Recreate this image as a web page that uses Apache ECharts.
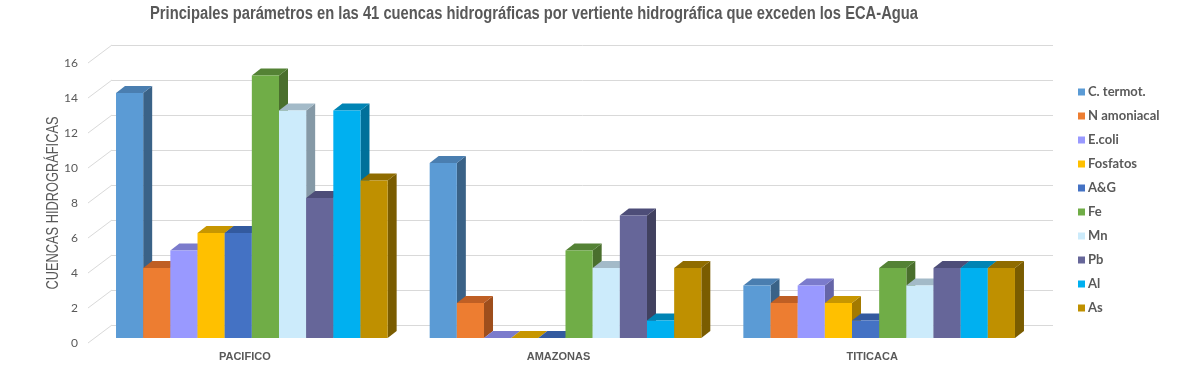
<!DOCTYPE html>
<html>
<head>
<meta charset="utf-8">
<script src="https://cdn.jsdelivr.net/npm/echarts@6.0.0/dist/echarts.min.js"></script>
<style>
html,body{margin:0;padding:0;background:#fff;}
#main{width:1200px;height:381px;}
</style>
</head>
<body>
<div id="main"></div>
<script>
// ---------- data ----------
const categories = ['PACIFICO', 'AMAZONAS', 'TITICACA'];
const seriesNames = ['C. termot.', 'N amoniacal', 'E.coli', 'Fosfatos', 'A&G', 'Fe', 'Mn', 'Pb', 'Al', 'As'];
const cTermot    = [14, 10, 3];
const nAmoniacal = [4, 2, 2];
const eColi      = [5, 0, 3];
const fosfatos   = [6, 0, 2];
const aYG        = [6, 0, 1];
const fe         = [15, 5, 4];
const mn         = [13, 4, 3];
const pb         = [8, 7, 4];
const al         = [13, 1, 4];
const arsenico   = [9, 4, 4];
const yTicks = [0, 2, 4, 6, 8, 10, 12, 14, 16];
const titleText = 'Principales parámetros en las 41 cuencas hidrográficas por vertiente hidrográfica que exceden los ECA-Agua';
const yAxisName = 'CUENCAS HIDROGRÁFICAS';

const seriesValues = [cTermot, nAmoniacal, eColi, fosfatos, aYG, fe, mn, pb, al, arsenico];

// ---------- styles ----------
const frontColors = ['#5B9BD5', '#ED7D31', '#9999FF', '#FFC000', '#4472C4', '#70AD47', '#CCEBFB', '#666699', '#00B0F0', '#BF9000'];
const topColors   = ['#4A7EB0', '#BF5F24', '#7B7BCC', '#C79600', '#335A9F', '#548235', '#A3BAC8', '#4D4D78', '#0084B4', '#8F6C00'];
const sideColors  = ['#3A6287', '#9E4E1C', '#6565A8', '#A37A00', '#2B4C86', '#4A6F2D', '#8599A6', '#41415F', '#00709A', '#7A5C00'];
const TEXT = '#595959';
const GRID = '#D9D9D9';

// projection offsets (pixels)
const FRONT_DX = -17, FRONT_DY = 13;   // bar front plane vs. back wall
const DEPTH_DX = 9, DEPTH_DY = -7;     // bar depth
const EDGE_DX = -24, EDGE_DY = 18;     // front floor edge vs. back wall
const CLUSTER = 0.866;

// font helpers
const mctx = document.createElement('canvas').getContext('2d');
function measure(font, text) { mctx.font = font; return mctx.measureText(text).width; }
const narrowAvail = measure('bold 20px "Liberation Sans Narrow", monospace', 'PACIFICO abc') !==
                    measure('bold 20px monospace', 'PACIFICO abc');
const NARROW = narrowAvail ? '"Liberation Sans Narrow", "Liberation Sans", Arial' : '"Liberation Sans", Arial';

const titleFont = 'bold 18px ' + NARROW;
const titleScale = 768 / measure(titleFont, titleText);
const nameFont = '16px ' + NARROW;
const nameScale = 173 / measure(nameFont, yAxisName);

const chart = echarts.init(document.getElementById('main'), null, {renderer: 'canvas'});

const N = seriesNames.length;
const barSeries = seriesNames.map((name, idx) => ({
  type: 'custom',
  name: name,
  xAxisIndex: 0,
  yAxisIndex: 0,
  itemStyle: {color: frontColors[idx]},
  encode: {x: 0, y: 1},
  data: seriesValues[idx].map((v, ci) => [ci, v]),
  z: 5,
  renderItem: function (params, api) {
    const ci = api.value(0), v = api.value(1);
    const b = api.coord([ci, 0]);
    const t = api.coord([ci, v]);
    const band = api.size([1, 0])[0];
    const bw = band * CLUSTER / N;
    const x0 = b[0] + FRONT_DX - N * bw / 2 + idx * bw;
    const yb = b[1] + FRONT_DY, yt = t[1] + FRONT_DY;
    return {
      type: 'group',
      children: [
        {type: 'polygon', shape: {points: [[x0 + bw, yt], [x0 + bw + DEPTH_DX, yt + DEPTH_DY], [x0 + bw + DEPTH_DX, yb + DEPTH_DY], [x0 + bw, yb]]},
         style: {fill: sideColors[idx]}},
        {type: 'polygon', shape: {points: [[x0, yt], [x0 + bw, yt], [x0 + bw + DEPTH_DX, yt + DEPTH_DY], [x0 + DEPTH_DX, yt + DEPTH_DY]]},
         style: {fill: topColors[idx]}},
        {type: 'rect', shape: {x: x0, y: yt, width: bw, height: yb - yt},
         style: {fill: frontColors[idx]}}
      ]
    };
  }
}));

const diagSeries = {
  type: 'custom',
  name: '__diag',
  xAxisIndex: 0,
  yAxisIndex: 0,
  silent: true,
  z: 1,
  data: yTicks.map(v => [0, v]),
  encode: {x: 0, y: 1},
  renderItem: function (params, api) {
    const p = api.coord([0, api.value(1)]);
    const x = params.coordSys.x;
    return {
      type: 'line',
      shape: {x1: x, y1: p[1], x2: x + EDGE_DX, y2: p[1] + EDGE_DY},
      style: {stroke: GRID, lineWidth: 1}
    };
  }
};

const option = {
  animation: false,
  backgroundColor: '#ffffff',
  graphic: [
    {type: 'text', x: 534, y: 14, scaleX: titleScale,
     style: {text: titleText, font: titleFont, fill: TEXT, textAlign: 'center', textVerticalAlign: 'middle', align: 'center', verticalAlign: 'middle'}},
    {type: 'text', x: 54, y: 203, rotation: Math.PI / 2, scaleX: nameScale,
     style: {text: yAxisName, font: nameFont, fill: TEXT, textAlign: 'center', textVerticalAlign: 'middle', align: 'center', verticalAlign: 'middle'}}
  ],
  legend: {
    orient: 'vertical',
    left: 1073,
    top: 80,
    icon: 'rect',
    itemWidth: 7,
    itemHeight: 7,
    itemGap: 10,
    data: seriesNames,
    textStyle: {color: TEXT, fontSize: 13, fontWeight: 'bold', fontFamily: 'Lato', lineHeight: 14, padding: [0, 0, 0, -2]}
  },
  grid: [
    {left: 112, top: 45, width: 941, height: 280},
    {left: 88, top: 63, width: 941, height: 280}
  ],
  xAxis: [
    {type: 'category', gridIndex: 0, data: categories,
     axisLine: {show: false}, axisTick: {show: false}, axisLabel: {show: false}, splitLine: {show: false}},
    {type: 'category', gridIndex: 1, data: categories,
     axisLine: {show: false}, axisTick: {show: false}, splitLine: {show: false},
     axisLabel: {color: TEXT, fontWeight: 'bold', fontSize: narrowAvail ? 13 : 11, fontFamily: NARROW, margin: 8}}
  ],
  yAxis: [
    {type: 'value', gridIndex: 0, min: 0, max: 16, interval: 2,
     axisLine: {show: false}, axisTick: {show: false}, axisLabel: {show: false},
     splitLine: {show: true, lineStyle: {color: GRID, width: 1}}},
    {type: 'value', gridIndex: 1, min: 0, max: 16, interval: 2,
     axisLine: {show: false}, axisTick: {show: false}, splitLine: {show: false},
     axisLabel: {color: TEXT, fontSize: 12, fontFamily: 'Lato', margin: 10}}
  ],
  series: [diagSeries].concat(barSeries)
};
chart.setOption(option);
</script>
</body>
</html>
